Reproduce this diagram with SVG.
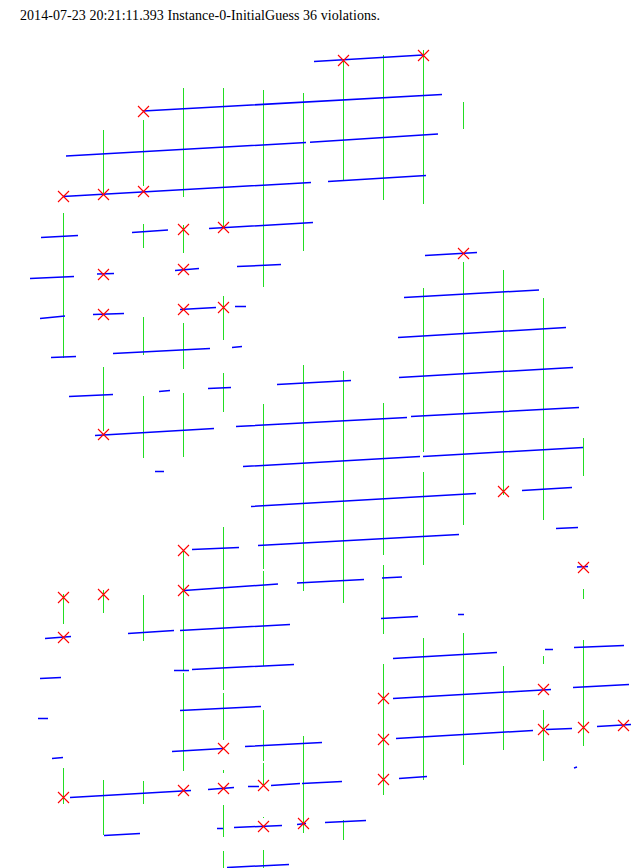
<svg xmlns="http://www.w3.org/2000/svg" width="631" height="868" viewBox="0 0 631 868">
<defs>
<g id="x"><path d="M-5.5-5.5L5.5 5.5M-5.5 5.5L5.5-5.5" fill="none" stroke="#ff0000" stroke-width="1.1"/></g>
</defs>
<style>
text{font-family:"Liberation Serif","Times New Roman",serif;font-size:14px;fill:#000}
.v path{stroke:#22dd22;stroke-width:1;fill:none}
.h path{stroke:#0000ff;stroke-width:1.5;fill:none}
</style>
<rect width="631" height="868" fill="#fff"/>
<text id="title" x="20" y="20" textLength="360" lengthAdjust="spacing">2014-07-23 20:21:11.393 Instance-0-InitialGuess 36 violations.</text>
<g id="connectors">
<g class="v">
<path d="M63.5 213V358M63.5 594V624M63.5 768V804"/>
<path d="M103.5 130V193M103.5 367V431M103.5 590V613M103.5 780V835"/>
<path d="M143.5 120V186M143.5 224V248M143.5 317V355M143.5 396V458M143.5 595V641M143.5 781V804"/>
<path d="M183.5 88V197M183.5 225V253M183.5 323V369M183.5 393V457M183.5 550V671M183.5 673V771"/>
<path d="M223.5 88V227M223.5 296V340M223.5 373V412M223.5 527V690M223.5 693V740M223.5 770V773M223.5 805V837M223.5 851V868"/>
<path d="M263.5 90V287M263.5 404V569M263.5 571V666M263.5 710V761M263.5 763V785M263.5 817V818M263.5 850V868"/>
<path d="M303.5 93V251M303.5 365V591M303.5 736V833"/>
<path d="M343.5 60V181M343.5 371V603M343.5 820V840"/>
<path d="M383.5 55V200M383.5 403V555M383.5 565V634M383.5 664V795"/>
<path d="M423.5 50V204M423.5 288V452M423.5 472V565M423.5 638V780"/>
<path d="M463.5 102V129M463.5 262V525M463.5 633V765"/>
<path d="M503.5 270V495M503.5 666V750"/>
<path d="M543.5 298V520M543.5 656V664M543.5 710V761"/>
<path d="M583.5 438V476M583.5 589V599M583.5 640V746"/>
</g>
<g class="h">
<path d="M143 111L442 94.5M66 156L306 142.5M310 142.3L438 134M63 196.5L311 182.5M328 181.5L426 175.5M314 61.5L423 55"/>
<path d="M41 237.5L78 235.5M132 232.5L168 230M209 228.5L313 222.5M30 278.5L74 276.5M97 274L114 273.5M175 270.5L199 268.5M237 266.5L281 264.5M425 255.5L477 252.5"/>
<path d="M40 318.5L65 316M93 314.5L124 313.5M180 309.5L216 307.5M235 306.5H246M113 353.5L210 348.5M232 347.5L242 346.5M51 357.5L76 356.5"/>
<path d="M69 396.5L113 394.5M159 391.5L170 390.5M208 388.5L231 387.5M95 435.5L214 428.5M155 471.5H164M277 384.5L351 380.5"/>
<path d="M236 426.5L407 417.5M243 466.5L420 456.5M251 506.5L476 493.5M192 549.5L239 547.5M258 545.5L459 534.5"/>
<path d="M404 297.5L539 290M398 337.5L566 327.5M399 377.5L573 367.5M411 416.5L579 407.5M423 456.5L583 447.5M522 490.5L572 487.5M556 528.5L578 527.5M577 567L588 566.5"/>
<path d="M297 583L364 579.5M382 578L402 577M184 590.5L278 584M45 638.5L71 636.5M128 633.5L174 630.5M180 630.5L290 624.5M174 670.5H189M192 669.5L294 664.5"/>
<path d="M40 678.5L61 677.5M38 718.5H48M180 710.5L261 706.5M172 751.5L223 748.5M245 746.5L322 742.5M52 758.5L63 757.5"/>
<path d="M70 797.5L191 790.5M208 789.5L234 787.5M248 786.5H259M271 785.5L300 783.5M302 783.5L342 781.5M104 835.5L140 833.5"/>
<path d="M217 828.5H223M234 827.5L282 825.5M297 824.5L306 823.5M325 822.5L366 820.5M227 867.5L289 864.5"/>
<path d="M381 618.5L418 616.5M458 614.5H464M545 649.5H553M574 647.5L624 645.5M393 658.5L497 652.5M393 698.5L551 689.5M573 687.5L629 684.5"/>
<path d="M396 738.5L533 730.5M546 729.5L572 728.5M597 726.5L631 724.5M399 778.5L427 776.5M574 768L577 767"/>
</g>
</g>
<g id="violations">
<use href="#x" x="143.5" y="111.5"/><use href="#x" x="63.5" y="196.5"/><use href="#x" x="103.5" y="194.5"/><use href="#x" x="143.5" y="191.5"/>
<use href="#x" x="183.5" y="229.5"/><use href="#x" x="223.5" y="227.5"/><use href="#x" x="103.5" y="274.5"/><use href="#x" x="183.5" y="269.5"/>
<use href="#x" x="343.5" y="60.5"/><use href="#x" x="423.5" y="55.5"/><use href="#x" x="463.5" y="253.5"/>
<use href="#x" x="103.5" y="314.5"/><use href="#x" x="183.5" y="309.5"/><use href="#x" x="223.5" y="307.5"/><use href="#x" x="103.5" y="434.5"/>
<use href="#x" x="183.5" y="550.5"/><use href="#x" x="503.5" y="491.5"/><use href="#x" x="583.5" y="567.5"/>
<use href="#x" x="63.5" y="597.5"/><use href="#x" x="103.5" y="594.5"/><use href="#x" x="183.5" y="590.5"/><use href="#x" x="63.5" y="637.5"/>
<use href="#x" x="223.5" y="748.5"/><use href="#x" x="183.5" y="790.5"/><use href="#x" x="223.5" y="788.5"/><use href="#x" x="263.5" y="785.5"/>
<use href="#x" x="63.5" y="797.5"/><use href="#x" x="263.5" y="826.5"/><use href="#x" x="303.5" y="823.5"/>
<use href="#x" x="383.5" y="698.5"/><use href="#x" x="383.5" y="739.5"/><use href="#x" x="383.5" y="779.5"/>
<use href="#x" x="543.5" y="689.5"/><use href="#x" x="543.5" y="729.5"/><use href="#x" x="583.5" y="727.5"/><use href="#x" x="623.5" y="725.5"/>
</g>
</svg>
